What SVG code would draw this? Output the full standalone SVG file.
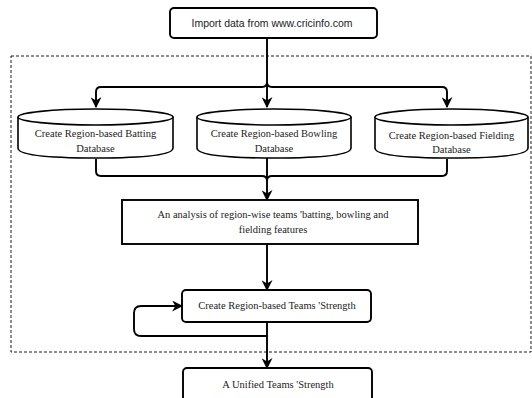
<svg xmlns="http://www.w3.org/2000/svg" width="532" height="398" viewBox="0 0 532 398">
<defs>
<marker id="arr" viewBox="0 0 10 10" refX="9" refY="5" markerWidth="11" markerHeight="11" markerUnits="userSpaceOnUse" orient="auto">
<path d="M0,0 L10,5 L0,10 L3,5 Z" fill="#000"/>
</marker>
<style>
.box{fill:#fff;stroke:#000;stroke-width:1.9}
.cyl{fill:#fff;stroke:#000;stroke-width:1.6}
.ln{fill:none;stroke:#000;stroke-width:1.9}
.sans{font-family:"Liberation Sans",Arial,sans-serif;font-size:10.5px;fill:#222}
.serif{font-family:"Liberation Serif","Times New Roman",serif;font-size:10.5px;fill:#222}
</style>
</defs>
<rect width="532" height="398" fill="#fff"/>
<rect id="region" x="11" y="56" width="520" height="296" fill="none" stroke="#000" stroke-width="0.9" stroke-dasharray="3,2"/>
<g id="connectors">
<path class="ln" d="M267,38 V82 Q267,87 262,87 H101 Q96,87 96,92 V107" marker-end="url(#arr)"/>
<path class="ln" d="M267,82 Q267,87 272,87 H442 Q447,87 447,92 V107" marker-end="url(#arr)"/>
<path class="ln" d="M267,82 V107" marker-end="url(#arr)"/>
<path class="ln" d="M96,159 V171 Q96,176 101,176 H262 Q267,176 267,181"/>
<path class="ln" d="M447,159 V171 Q447,176 442,176 H272 Q267,176 267,181"/>
<path class="ln" d="M267,157 V200" marker-end="url(#arr)"/>
<path class="ln" d="M267,244 V290" marker-end="url(#arr)"/>
<path class="ln" d="M267,322 V368" marker-end="url(#arr)"/>
<path class="ln" d="M267,336 H141 Q134,336 134,329 V313 Q134,306 141,306 H182" marker-end="url(#arr)"/>
</g>
<g id="import">
<rect class="box" x="170" y="8" width="207" height="30" rx="4"/>
<text class="sans" x="272" y="27" text-anchor="middle">Import data from www.cricinfo.com</text>
</g>
<g id="batting">
<path class="cyl" d="M18,117 V148 Q18,158 95.5,158 Q173,158 173,148 V117"/>
<ellipse class="cyl" cx="95.5" cy="117" rx="77.5" ry="8"/>
<text class="serif" x="95.5" y="137" text-anchor="middle">Create Region-based Batting</text>
<text class="serif" x="95.5" y="152" text-anchor="middle">Database</text>
</g>
<g id="bowling">
<path class="cyl" d="M197,117 V148 Q197,158 274,158 Q351,158 351,148 V117"/>
<ellipse class="cyl" cx="274" cy="117" rx="77" ry="8"/>
<text class="serif" x="274" y="137" text-anchor="middle">Create Region-based Bowling</text>
<text class="serif" x="274" y="152" text-anchor="middle">Database</text>
</g>
<g id="fielding">
<path class="cyl" d="M375,117 V148 Q375,158 451.5,158 Q528,158 528,148 V117"/>
<ellipse class="cyl" cx="451.5" cy="117" rx="76.5" ry="8"/>
<text class="serif" x="451.5" y="139" text-anchor="middle">Create Region-based Fielding</text>
<text class="serif" x="451.5" y="153" text-anchor="middle">Database</text>
</g>
<g id="analysis">
<rect class="box" x="122" y="200" width="296" height="44"/>
<text class="serif" x="273" y="218" text-anchor="middle">An analysis of region-wise teams 'batting, bowling and</text>
<text class="serif" x="273" y="233" text-anchor="middle">fielding features</text>
</g>
<g id="teams">
<rect class="box" x="182" y="290" width="189" height="32" rx="4"/>
<text class="serif" x="277" y="309" text-anchor="middle">Create Region-based Teams 'Strength</text>
</g>
<g id="unified">
<rect class="box" x="183" y="368" width="189" height="34" rx="4"/>
<text class="serif" x="278" y="388" text-anchor="middle">A Unified Teams 'Strength</text>
</g>
</svg>
